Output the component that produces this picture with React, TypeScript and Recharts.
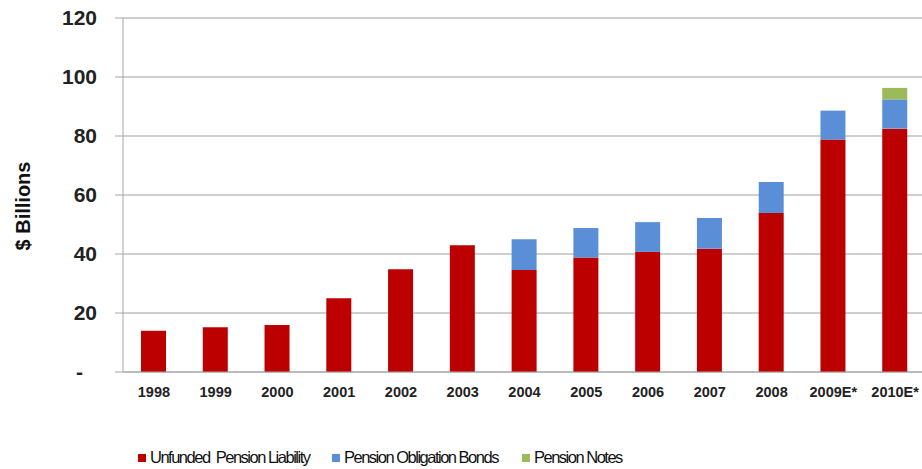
import { BarChart, Bar, XAxis, YAxis, CartesianGrid, Legend } from "recharts";

const years = ["1998", "1999", "2000", "2001", "2002", "2003", "2004", "2005", "2006", "2007", "2008", "2009E*", "2010E*"];
const unfunded = [14, 15.2, 15.9, 25, 34.8, 43, 34.6, 38.8, 40.7, 41.8, 53.9, 78.8, 82.5];
const pobs = [0, 0, 0, 0, 0, 0, 10.4, 10, 10.1, 10.4, 10.5, 9.8, 9.9];
const notes = [0, 0, 0, 0, 0, 0, 0, 0, 0, 0, 0, 0, 3.9];
const yTicks = [0, 20, 40, 60, 80, 100, 120];

const data = years.map((year, i) => ({
  year,
  unfunded: unfunded[i],
  pobs: pobs[i] || null,
  notes: notes[i] || null,
}));

const RED = "#BC0000";
const BLUE = "#5A8FD8";
const GREEN = "#9BBB59";
const FONT = "'Liberation Sans', Arial, sans-serif";

const legendItems = [
  { label: "Unfunded  Pension Liability", color: RED, left: 138 },
  { label: "Pension Obligation Bonds", color: BLUE, left: 332 },
  { label: "Pension Notes", color: GREEN, left: 522 },
];

function YTick(props: any) {
  const { x, y, payload } = props;
  const zero = payload.value === 0;
  return (
    <text
      x={zero ? x - 14 : x}
      y={y}
      dy="0.35em"
      textAnchor="end"
      fontFamily={FONT}
      fontSize={21}
      fontWeight="bold"
      fill="#222"
    >
      {zero ? "-" : payload.value}
    </text>
  );
}

function YLabel() {
  return (
    <text
      x={23}
      y={206}
      transform="rotate(-90 23 206)"
      textAnchor="middle"
      dominantBaseline="central"
      fontFamily={FONT}
      fontSize={20}
      fontWeight="bold"
      fill="#111"
    >
      $ Billions
    </text>
  );
}

function ChartLegend() {
  return (
    <div style={{ position: "relative", height: 22, fontFamily: FONT }}>
      {legendItems.map((it) => (
        <div
          key={it.label}
          style={{
            position: "absolute",
            left: it.left,
            top: 1,
            display: "flex",
            alignItems: "center",
            fontSize: 16.5,
            letterSpacing: -1.5,
            color: "#111",
            whiteSpace: "pre",
          }}
        >
          <span style={{ width: 8, height: 8, background: it.color, marginRight: 4, display: "inline-block" }} />
          {it.label}
        </div>
      ))}
    </div>
  );
}

export default function App() {
  return (
    <div style={{ position: "absolute", left: 0, top: 0, background: "#fff" }}>
      <BarChart
        width={922}
        height={469}
        data={data}
        margin={{ top: 18, right: -4, left: 0, bottom: 0 }}
        barSize={25}
      >
        <CartesianGrid vertical={false} stroke="#BFBFBF" strokeWidth={1.5} />
        <XAxis
          dataKey="year"
          height={75}
          tickLine={false}
          tickSize={0}
          tickMargin={15}
          axisLine={{ stroke: "#A6A6A6" }}
          tick={{ fontFamily: FONT, fontSize: 14.5, fontWeight: "bold", fill: "#222" }}
          interval={0}
        />
        <YAxis
          width={123}
          domain={[0, 120]}
          ticks={yTicks}
          tickSize={8}
          tickMargin={18}
          tickLine={{ stroke: "#A6A6A6" }}
          axisLine={{ stroke: "#A6A6A6" }}
          tick={<YTick />}
          label={<YLabel />}
        />
        <Legend verticalAlign="bottom" height={22} content={() => <ChartLegend />} />
        <Bar dataKey="unfunded" stackId="a" fill={RED} isAnimationActive={false} />
        <Bar dataKey="pobs" stackId="a" fill={BLUE} isAnimationActive={false} />
        <Bar dataKey="notes" stackId="a" fill={GREEN} isAnimationActive={false} />
      </BarChart>
    </div>
  );
}
